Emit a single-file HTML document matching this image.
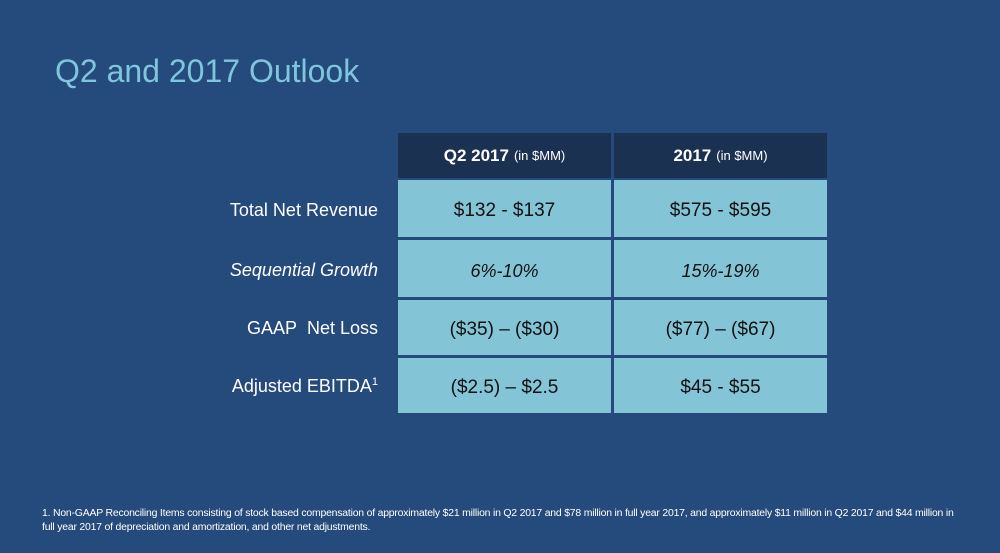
<!DOCTYPE html>
<html><head><meta charset="utf-8"><style>
body{margin:0;width:1000px;height:553px;background:#254a7c;font-family:"Liberation Sans",sans-serif;position:relative;overflow:hidden}
.t{position:absolute;left:55px;top:53px;font-size:32px;color:#7fc6dd}
.c{position:absolute;display:flex;align-items:center;justify-content:center;font-size:19px;color:#111;box-sizing:border-box}
.h{background:#1b3152;color:#fff;font-weight:bold;font-size:17px}
.h span{font-weight:normal;font-size:13px;margin-left:5px}
.v{background:#84c4d7;padding-top:5px}
.l{position:absolute;right:622px;font-size:18px;color:#fff;text-align:right}
.f{position:absolute;left:42px;top:507px;font-size:10px;color:#fff;line-height:14px;transform-origin:0 0;transform:scaleX(1.045);white-space:nowrap;letter-spacing:-0.2px}
</style></head><body>
<div class="t">Q2 and 2017 Outlook</div>
<div class="c h" style="left:398px;top:133px;width:213px;height:45px">Q2 2017<span>(in $MM)</span></div>
<div class="c h" style="left:614px;top:133px;width:213px;height:45px">2017<span>(in $MM)</span></div>

<div class="l" style="top:200px">Total Net Revenue</div>
<div class="l" style="top:260px;font-style:italic">Sequential Growth</div>
<div class="l" style="top:318px">GAAP&nbsp; Net Loss</div>
<div class="l" style="top:376px">Adjusted EBITDA<sup style="font-size:11px">1</sup></div>

<div class="c v" style="left:398px;top:180px;width:213px;height:57px">$132 - $137</div>
<div class="c v" style="left:614px;top:180px;width:213px;height:57px">$575 - $595</div>
<div class="c v" style="left:398px;top:240px;width:213px;height:57px;font-style:italic;font-size:18px">6%-10%</div>
<div class="c v" style="left:614px;top:240px;width:213px;height:57px;font-style:italic;font-size:18px">15%-19%</div>
<div class="c v" style="left:398px;top:300px;width:213px;height:55px">($35) – ($30)</div>
<div class="c v" style="left:614px;top:300px;width:213px;height:55px">($77) – ($67)</div>
<div class="c v" style="left:398px;top:358px;width:213px;height:55px">($2.5) – $2.5</div>
<div class="c v" style="left:614px;top:358px;width:213px;height:55px">$45 - $55</div>

<div class="f">1. Non-GAAP Reconciling Items consisting of stock based compensation of approximately $21 million in Q2 2017 and $78 million in full year 2017, and approximately $11 million in Q2 2017 and $44 million in<br>full year 2017 of depreciation and amortization, and other net adjustments.</div>
</body></html>
